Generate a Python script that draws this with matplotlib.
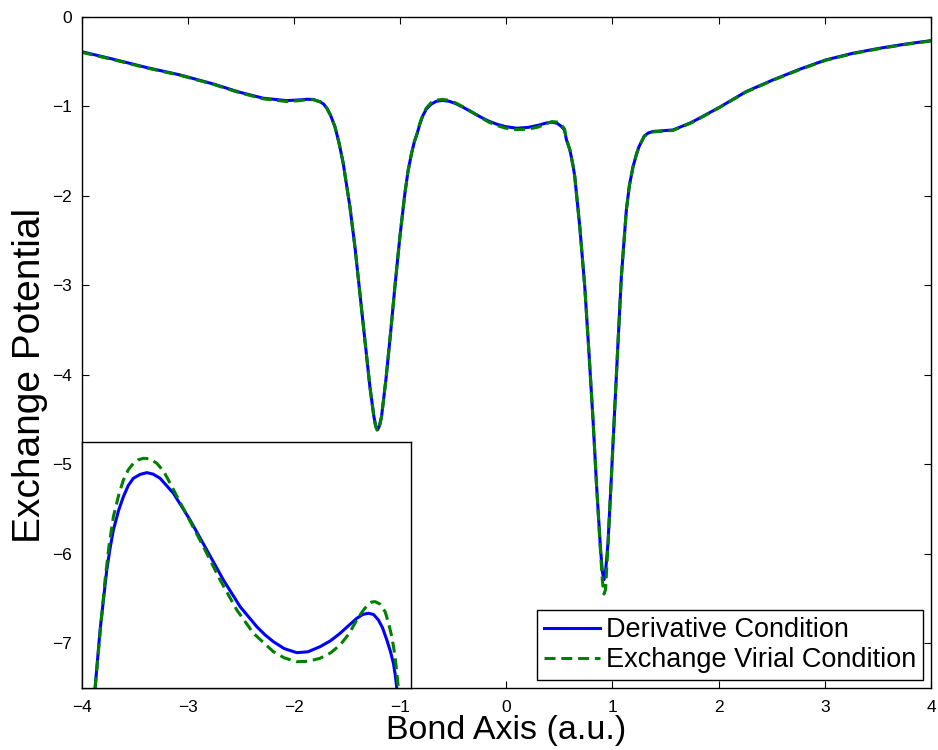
import matplotlib
matplotlib.use('Agg')
import matplotlib.pyplot as plt

plt.rcParams['font.family'] = ['Liberation Sans', 'DejaVu Sans']

# 主图数据：沿键轴的交换势
bond_x = [-4.0, -3.70, -3.386, -3.073, -2.76, -2.51, -2.29, -2.07, -1.944, -1.88,
          -1.818, -1.75, -1.72, -1.69, -1.655, -1.614, -1.575, -1.536, -1.473, -1.426,
          -1.379, -1.332, -1.285, -1.247, -1.23, -1.212, -1.195, -1.175, -1.134, -1.09,
          -1.049, -1.002, -0.955, -0.925, -0.892, -0.865, -0.84, -0.816, -0.785, -0.754,
          -0.708, -0.66, -0.60, -0.537, -0.475, -0.398, -0.32, -0.243, -0.165, -0.088,
          -0.01, 0.098, 0.207, 0.30, 0.378, 0.431, 0.478, 0.517, 0.548, 0.567,
          0.60, 0.63, 0.645, 0.692, 0.739, 0.779, 0.817, 0.849, 0.886, 0.905,
          0.92, 0.935, 0.958, 0.99, 1.021, 1.052, 1.084, 1.131, 1.16, 1.194,
          1.225, 1.25, 1.30, 1.34, 1.382, 1.57, 1.727, 1.79, 2.009, 2.26,
          2.511, 2.762, 3.01, 3.264, 3.515, 3.766, 4.0]
deriv_y = [-0.388, -0.473, -0.566, -0.648, -0.749, -0.842, -0.908, -0.935, -0.927, -0.920,
           -0.922, -0.95, -0.975, -1.02, -1.10, -1.226, -1.41, -1.635, -2.12, -2.566,
           -3.087, -3.609, -4.13, -4.466, -4.57, -4.615, -4.57, -4.466, -4.056, -3.534,
           -3.013, -2.455, -1.97, -1.72, -1.523, -1.39, -1.305, -1.205, -1.101, -1.032,
           -0.975, -0.943, -0.933, -0.943, -0.969, -1.015, -1.067, -1.118, -1.165, -1.199,
           -1.225, -1.244, -1.234, -1.211, -1.185, -1.176, -1.188, -1.222, -1.262, -1.374,
           -1.49, -1.67, -1.784, -2.343, -3.013, -3.758, -4.503, -5.21, -5.918, -6.2,
           -6.29, -6.2, -5.88, -5.136, -4.39, -3.646, -2.9, -2.156, -1.88, -1.673,
           -1.54, -1.45, -1.33, -1.295, -1.28, -1.263, -1.188, -1.15, -1.009, -0.834,
           -0.704, -0.585, -0.48, -0.406, -0.35, -0.302, -0.265]
virial_y = [-0.395, -0.478, -0.570, -0.652, -0.753, -0.848, -0.915, -0.945, -0.935, -0.925,
            -0.925, -0.95, -0.975, -1.02, -1.10, -1.226, -1.41, -1.635, -2.12, -2.566,
            -3.087, -3.609, -4.13, -4.47, -4.58, -4.63, -4.58, -4.47, -4.056, -3.534,
            -3.013, -2.455, -1.97, -1.72, -1.523, -1.39, -1.305, -1.195, -1.09, -1.02,
            -0.958, -0.93, -0.922, -0.932, -0.962, -1.010, -1.065, -1.122, -1.175, -1.213,
            -1.242, -1.260, -1.254, -1.231, -1.192, -1.170, -1.175, -1.205, -1.250, -1.365,
            -1.49, -1.67, -1.784, -2.343, -3.013, -3.758, -4.503, -5.21, -5.95, -6.3,
            -6.45, -6.4, -5.90, -5.136, -4.39, -3.646, -2.9, -2.156, -1.88, -1.673,
            -1.54, -1.45, -1.335, -1.30, -1.285, -1.268, -1.192, -1.155, -1.012, -0.838,
            -0.708, -0.589, -0.484, -0.410, -0.354, -0.306, -0.268]

# 插图数据：两个极小值之间的放大
zoom_x_deriv = [-0.8395, -0.8163, -0.7851, -0.77, -0.7544, -0.73, -0.7079, -0.685,
                -0.6614, -0.63, -0.5991, -0.57, -0.5373, -0.4754, -0.3978, -0.3201,
                -0.2429, -0.1652, -0.0876, -0.05, -0.0104, 0.04, 0.0985, 0.15,
                0.2068, 0.255, 0.2998, 0.34, 0.3775, 0.405, 0.4314, 0.455,
                0.4779, 0.497, 0.5170, 0.533, 0.5477, 0.556, 0.5635]
zoom_y_deriv = [-1.3055, -1.2048, -1.1011, -1.064, -1.0320, -0.998, -0.9745, -0.955,
                -0.9427, -0.936, -0.9330, -0.9355, -0.9427, -0.9686, -1.0148, -1.0666,
                -1.1184, -1.1645, -1.1991, -1.213, -1.2250, -1.237, -1.2440, -1.2425,
                -1.2336, -1.2235, -1.2105, -1.197, -1.1846, -1.178, -1.1759, -1.178,
                -1.1875, -1.201, -1.2221, -1.241, -1.2623, -1.282, -1.3055]
zoom_x_virial = [-0.8395, -0.81, -0.793, -0.775, -0.7544, -0.73, -0.7079, -0.685,
                 -0.6614, -0.64, -0.6149, -0.585, -0.5526, -0.52, -0.4908, -0.4131,
                 -0.3359, -0.2582, -0.1806, -0.1034, -0.0104, 0.04, 0.0985, 0.15,
                 0.2068, 0.255, 0.2998, 0.34, 0.3775, 0.405, 0.4314, 0.447,
                 0.4626, 0.485, 0.5091, 0.525, 0.5402, 0.55, 0.5588, 0.5709]
zoom_y_virial = [-1.305, -1.185, -1.1184, -1.06, -1.0091, -0.972, -0.9457, -0.928,
                 -0.9168, -0.911, -0.9082, -0.909, -0.9168, -0.931, -0.9513, -1.0061,
                 -1.0609, -1.1184, -1.1702, -1.2105, -1.2423, -1.2530, -1.2596, -1.2590,
                 -1.2537, -1.2445, -1.2307, -1.212, -1.1875, -1.172, -1.1599, -1.1565,
                 -1.1559, -1.160, -1.1732, -1.193, -1.2164, -1.238, -1.2623, -1.3055]

x_ticks = [-4, -3, -2, -1, 0, 1, 2, 3, 4]
y_ticks = [0, -1, -2, -3, -4, -5, -6, -7]

BLUE = (0, 0, 1)
GREEN = (0, 0.5, 0)
DASH = (3.6, 1.9)

fig = plt.figure(figsize=(9.38, 7.5), dpi=100)
ax = fig.add_axes([0.087, 0.0827, 0.9055, 0.8947])

ax.plot(bond_x, deriv_y, color=BLUE, lw=2.2, label='Derivative Condition')
ax.plot(bond_x, virial_y, color=GREEN, lw=2.2, dashes=DASH, label='Exchange Virial Condition')

ax.set_xlim(-4, 4)
ax.set_ylim(-7.5, 0)
ax.set_xticks(x_ticks)
ax.set_yticks(y_ticks)
ax.tick_params(direction='in', length=5, width=0.8, top=True, right=True, labelsize=12.5)
ax.tick_params(axis='x', pad=9)
ax.tick_params(axis='y', pad=7)
for s in ax.spines.values():
    s.set_linewidth(1.0)
ax.set_xlabel('Bond Axis (a.u.)', fontsize=24.5, labelpad=0)
ax.set_ylabel('Exchange Potential', fontsize=28)
ax.yaxis.set_label_coords(-0.039, 0.466)

leg = ax.legend(loc='lower right', fontsize=19.5, fancybox=False, framealpha=1,
                edgecolor='black', borderaxespad=0.3, handlelength=2.1,
                handletextpad=0.2, borderpad=0.25, labelspacing=0.15)
leg.get_frame().set_linewidth(1.0)

# 插图
axin = fig.add_axes([0.0875, 0.0827, 0.3508, 0.328])
axin.plot(zoom_x_deriv, zoom_y_deriv, color=BLUE, lw=2.2)
axin.plot(zoom_x_virial, zoom_y_virial, color=GREEN, lw=2.2, dashes=DASH)
axin.set_xlim(-0.9, 0.63)
axin.set_ylim(-1.305, -0.88)
axin.set_xticks([])
axin.set_yticks([])
for s in axin.spines.values():
    s.set_linewidth(1.0)

fig.savefig('out.png', dpi=100)
